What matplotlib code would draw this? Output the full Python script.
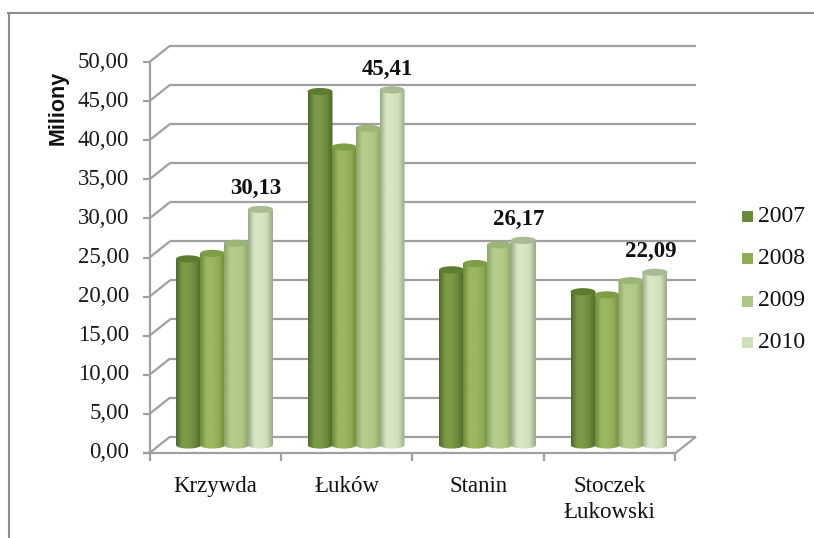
import numpy as np
import matplotlib
matplotlib.use("Agg")
import matplotlib.pyplot as plt
from matplotlib.patches import Ellipse, PathPatch, Rectangle
from matplotlib.path import Path
from matplotlib.colors import LinearSegmentedColormap

categories = ["Krzywda", "Łuków", "Stanin", "Stoczek\nŁukowski"]
years = ["2007", "2008", "2009", "2010"]
v2007 = [23.8, 45.2, 22.4, 19.6]
v2008 = [24.5, 38.1, 23.2, 19.2]
v2009 = [25.8, 40.5, 25.6, 21.0]
v2010 = [30.13, 45.41, 26.17, 22.09]
series = [v2007, v2008, v2009, v2010]
yticks = [0, 5, 10, 15, 20, 25, 30, 35, 40, 45, 50]
W, H = 814, 538
L, R, B, T = 149.5, 675.5, 453, 62
fig = plt.figure(figsize=(W/100, H/100), dpi=100, facecolor="white")
ax = fig.add_axes([L/W, 1-B/H, (R-L)/W, (B-T)/H])
ax.set_xlim(0, 4); ax.set_ylim(0, 50)
ax.patch.set_visible(False)
for s in ax.spines.values():
    s.set_visible(False)
px = 4/(R-L); py = 50/(B-T)
dx, dy = 20.5*px, 16.3*py
grey = "#a0a0a0"
kw = dict(color=grey, lw=1.6, clip_on=False, solid_capstyle="butt")
for v in yticks:
    ax.plot([dx, 4+dx], [v+dy, v+dy], zorder=1, **kw)
    ax.plot([0, dx], [v, v+dy], zorder=1, **kw)
    ax.plot([-6.5*px, 0], [v, v], zorder=1, **kw)
ax.plot([0, 0], [-8*py, 50], zorder=1, **kw)
ax.plot([-6.5*px, 4], [0, 0], zorder=1, **kw)
ax.plot([4, 4+dx], [0, dy], zorder=1, **kw)
for i in range(1, 5):
    ax.plot([i, i], [0, -8*py], zorder=1, **kw)
ax.set_xticks([]); ax.set_yticks([])
serif = "Liberation Serif"
fs = 16.5
for v in yticks:
    ax.text(-20.5*px, v, f"{v:.2f}".replace(".", ","), ha="right", va="center", family=serif, fontsize=fs, color="#1a1a1a")
for i, c in enumerate(categories):
    ax.text(i+0.5, -23*py, c, ha="center", va="top", family=serif, fontsize=fs, color="#111111", linespacing=1.32)
ax.text(-91*px, (B-107.5)*py, "Miliony", rotation=90, ha="center", va="center", family="Liberation Sans", fontweight="bold", fontsize=15.5, color="#111111")

base = ["#6b8a3a", "#90ad56", "#adc682", "#cfdfb8"]
dark = ["#4f6a28", "#6f8b3c", "#8ba565", "#9aa98a"]
light = ["#7b9a48", "#9ab85f", "#b5cc8c", "#d8e6c4"]
top = ["#5d7c30", "#7f9c47", "#9bb572", "#a9bb93"]
step = 24*px
bw = 25*px
rx, ry = bw/2, 3.6*py
ox, oy = 9.25*px+0.5, 8*py
for j, vals in enumerate(series):
    cmap = LinearSegmentedColormap.from_list("c", [dark[j], light[j], light[j], base[j], dark[j]])
    grad = np.linspace(0, 1, 64)[None, :]
    for i, v in enumerate(vals):
        x0 = i + ox + (j-2)*step - 0.5*px
        x1 = x0 + bw
        k = 0.5523
        verts = [(x0, v+oy), (x0, oy), (x0, oy-k*ry), (x0+rx-k*rx, oy-ry), (x0+rx, oy-ry),
                 (x0+rx+k*rx, oy-ry), (x1, oy-k*ry), (x1, oy), (x1, v+oy), (x0, v+oy)]
        codes = [Path.MOVETO, Path.LINETO, Path.CURVE4, Path.CURVE4, Path.CURVE4,
                 Path.CURVE4, Path.CURVE4, Path.CURVE4, Path.LINETO, Path.CLOSEPOLY]
        clip = PathPatch(Path(verts, codes), transform=ax.transData, fc="none", ec="none")
        ax.add_patch(clip)
        im = ax.imshow(grad, extent=(x0, x1, oy-ry, v+oy), cmap=cmap, aspect="auto", zorder=3+j*0.01+0.1*i, interpolation="bilinear")
        im.set_clip_path(clip)
        ax.add_patch(Ellipse((x0+rx, v+oy), bw, 2*ry, fc=top[j], ec="none", zorder=3.001+j*0.01+0.1*i))
ax.set_xlim(0, 4); ax.set_ylim(0, 50)
for i, v in enumerate(v2010):
    xc = i + ox + 1.5*step - 4.5*px
    ax.text(xc, v+oy+20.5*py, f"{v:.2f}".replace(".", ","), ha="center", va="center", family=serif, fontweight="bold", fontsize=fs, color="#111111", zorder=6)

# legend
lx = 742
for j, y in enumerate(years):
    yy = [216.5, 258, 301, 342.5][j]
    ax.add_patch(Rectangle(((lx-L)*px, (B-yy-5.5)*py), 11*px, 11*py, fc=base[j], ec="none", clip_on=False))
    ax.text((lx+16-L)*px, (B-yy)*py, y, ha="left", va="center", family=serif, fontsize=17, color="#111111")
# outer border
fig.add_artist(plt.Line2D([8.5/W, 8.5/W], [0, 1-12.5/H], color="#8c8c8c", lw=1.5))
fig.add_artist(plt.Line2D([8/W, 1], [1-12.5/H, 1-12.5/H], color="#8c8c8c", lw=1.5))
fig.savefig("out.png", dpi=100)
